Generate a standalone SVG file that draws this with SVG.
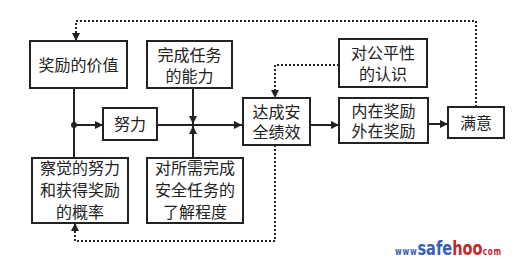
<svg xmlns="http://www.w3.org/2000/svg" width="522" height="270" viewBox="0 0 522 270">
<style>
.box{fill:#fff;stroke:#222;stroke-width:2}
.t{font-family:"Liberation Sans","Noto Sans CJK SC",sans-serif;font-size:16px;fill:#222;text-anchor:middle;dominant-baseline:central}
.ln{fill:none;stroke:#222;stroke-width:2}
.dt{fill:none;stroke:#222;stroke-width:2;stroke-dasharray:2 2}
.wm{font-family:"DejaVu Sans","Liberation Sans",sans-serif;font-weight:bold}
</style>
<defs>
<marker id="ar" viewBox="0 0 10 10" refX="10" refY="5" markerWidth="9" markerHeight="8" markerUnits="userSpaceOnUse" orient="auto"><path d="M0,0L10,5L0,10Z" fill="#222"/></marker>
</defs>
<rect width="522" height="270" fill="#fff"/>
<g id="connectors">
<path class="ln" d="M74,88V158"/>
<path class="ln" d="M74,125H103" marker-end="url(#ar)"/>
<circle cx="74" cy="125" r="3" fill="#222"/>
<path class="ln" d="M157,125H242" marker-end="url(#ar)"/>
<path class="ln" d="M193,88V124" marker-end="url(#ar)"/>
<path class="ln" d="M193,158V126" marker-end="url(#ar)"/>
<path class="ln" d="M310,125H339" marker-end="url(#ar)"/>
<path class="ln" d="M428,124H448" marker-end="url(#ar)"/>
<path class="dt" d="M476,107V21H76V41" marker-end="url(#ar)"/>
<path class="dt" d="M339,65H275V98" marker-end="url(#ar)"/>
<path class="dt" d="M275,145V241H75V223" marker-end="url(#ar)"/>
</g>
<g id="n1"><rect class="box" x="30" y="41" width="97" height="47"/><text class="t" x="78.5" y="65">奖励的价值</text></g>
<g id="n2"><rect class="box" x="147" y="41" width="85" height="47"/><text class="t" x="189.5" y="55">完成任务</text><text class="t" x="189.5" y="76">的能力</text></g>
<g id="n3"><rect class="box" x="103" y="108" width="54" height="32"/><text class="t" x="130" y="124">努力</text></g>
<g id="n4"><rect class="box" x="32" y="158" width="96" height="65"/><text class="t" x="80" y="168">察觉的努力</text><text class="t" x="80" y="190">和获得奖励</text><text class="t" x="80" y="212">的概率</text></g>
<g id="n5"><rect class="box" x="147" y="158" width="96" height="65"/><text class="t" x="195" y="168">对所需完成</text><text class="t" x="195" y="190">安全任务的</text><text class="t" x="195" y="212">了解程度</text></g>
<g id="n6"><rect class="box" x="243" y="98" width="67" height="47"/><text class="t" x="276.5" y="112">达成安</text><text class="t" x="276.5" y="132">全绩效</text></g>
<g id="n7"><rect class="box" x="339" y="39" width="88" height="48"/><text class="t" x="383" y="53">对公平性</text><text class="t" x="383" y="74">的认识</text></g>
<g id="n8"><rect class="box" x="339" y="98" width="89" height="45"/><text class="t" x="383.5" y="111">内在奖励</text><text class="t" x="383.5" y="131">外在奖励</text></g>
<g id="n9"><rect class="box" x="448" y="107" width="56" height="31"/><text class="t" x="476" y="123">满意</text></g>
<g id="watermark">
<text class="wm" transform="translate(395,255) scale(0.73,1)" x="0" y="0"><tspan font-size="10" fill="#3a5fae" letter-spacing="1">www</tspan><tspan font-size="20" fill="#3a5fae">safe</tspan><tspan font-size="20" fill="#c0282e">hoo</tspan><tspan font-size="10" fill="#c0282e" letter-spacing="1">com</tspan></text>
</g>
</svg>
